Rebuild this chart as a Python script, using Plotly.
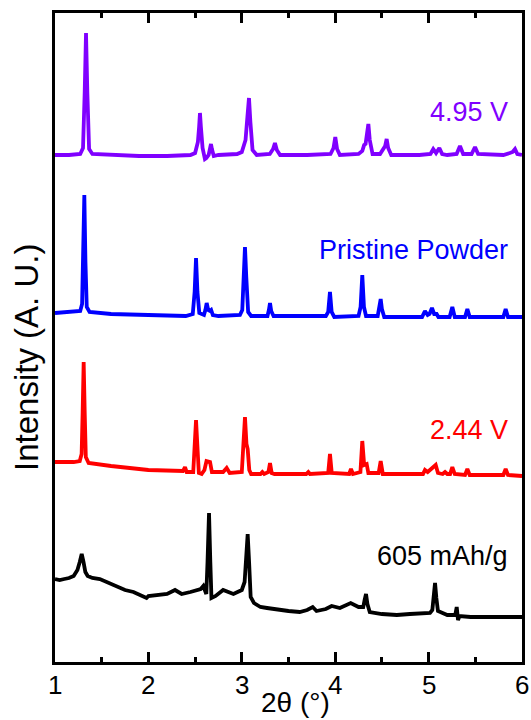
import plotly.graph_objects as go

# 2theta positions and intensities (arbitrary, stacked offsets baked in)
x_495 = [1.00, 1.15, 1.27, 1.300, 1.318, 1.332, 1.346, 1.365, 1.40, 1.60, 1.90, 2.20, 2.45, 2.50, 2.530, 2.543, 2.552, 2.562, 2.580, 2.605, 2.62, 2.645, 2.660, 2.670, 2.680, 2.700, 2.75, 2.95, 3.00, 3.040, 3.060, 3.077, 3.092, 3.115, 3.16, 3.30, 3.335, 3.355, 3.375, 3.41, 3.70, 3.95, 3.982, 4.001, 4.020, 4.05, 4.25, 4.290, 4.310, 4.325, 4.340, 4.355, 4.370, 4.40, 4.48, 4.505, 4.515, 4.535, 4.551, 4.567, 4.60, 4.90, 5.02, 5.050, 5.080, 5.115, 5.145, 5.20, 5.30, 5.336, 5.37, 5.46, 5.497, 5.53, 5.80, 5.850, 5.870, 5.900, 5.925, 5.950, 6.00]
y_495 = [507, 507, 508, 514, 570, 629, 570, 513, 508, 507, 506, 506, 507, 509, 520, 535, 549, 535, 514, 503, 504, 507, 514, 518, 513, 506, 507, 508, 510, 522, 545, 564, 540, 512, 507, 508, 513, 519, 512, 507, 507, 508, 514, 525, 513, 507, 508, 511, 517, 518, 528, 538, 522, 508, 508, 511, 513, 516, 523, 514, 507, 507, 508, 513, 509, 514, 508, 507, 508, 516, 508, 508, 515, 508, 507, 508, 509, 510, 513, 508, 507]

x_pristine = [1.00, 1.20, 1.270, 1.290, 1.302, 1.314, 1.326, 1.340, 1.37, 1.60, 2.00, 2.40, 2.475, 2.495, 2.510, 2.525, 2.545, 2.595, 2.610, 2.624, 2.640, 2.660, 2.672, 2.690, 2.75, 2.98, 3.005, 3.020, 3.034, 3.048, 3.068, 3.10, 3.275, 3.290, 3.302, 3.315, 3.34, 3.90, 3.925, 3.944, 3.962, 3.99, 4.25, 4.272, 4.290, 4.308, 4.33, 4.455, 4.475, 4.487, 4.500, 4.525, 4.93, 4.961, 4.990, 5.010, 5.036, 5.060, 5.086, 5.105, 5.225, 5.254, 5.280, 5.39, 5.415, 5.440, 5.80, 5.825, 5.850, 6.00]
y_pristine = [349, 350, 351, 358, 400, 467, 400, 355, 350, 348, 347, 346, 348, 370, 404, 370, 349, 347, 352, 359, 352, 351, 352, 347, 346, 347, 352, 385, 415, 385, 350, 346, 346, 352, 359, 351, 346, 346, 350, 370, 350, 345, 346, 355, 387, 355, 346, 346, 355, 363, 353, 345, 345, 351, 347, 348, 354, 348, 348, 345, 345, 355, 345, 345, 353, 345, 345, 353, 345, 345]

x_244 = [1.00, 1.20, 1.265, 1.285, 1.296, 1.307, 1.318, 1.330, 1.36, 1.60, 2.00, 2.30, 2.370, 2.392, 2.410, 2.480, 2.495, 2.510, 2.525, 2.540, 2.570, 2.600, 2.622, 2.645, 2.660, 2.680, 2.80, 2.838, 2.870, 3.000, 3.018, 3.034, 3.050, 3.063, 3.080, 3.10, 3.200, 3.220, 3.240, 3.285, 3.302, 3.320, 3.35, 3.690, 3.712, 3.73, 3.925, 3.944, 3.963, 4.150, 4.169, 4.190, 4.270, 4.290, 4.310, 4.337, 4.355, 4.465, 4.487, 4.510, 4.940, 4.961, 4.990, 5.033, 5.076, 5.100, 5.150, 5.176, 5.200, 5.230, 5.254, 5.280, 5.390, 5.415, 5.440, 5.800, 5.825, 5.850, 6.00]
y_244 = [200, 200, 201, 208, 250, 300, 250, 205, 199, 196, 192, 191, 191, 195, 190, 190, 215, 242, 215, 189, 188, 192, 201, 200, 200, 190, 190, 194, 189, 190, 215, 245, 218, 213, 192, 188, 188, 190, 188, 190, 199, 189, 188, 188, 190, 188, 189, 208, 189, 188, 193, 188, 190, 221, 197, 198, 189, 189, 201, 188, 188, 192, 190, 194, 197, 189, 188, 190, 188, 188, 195, 188, 187, 193, 187, 187, 193, 187, 186]

x_605 = [1.00, 1.05, 1.10, 1.15, 1.20, 1.240, 1.265, 1.286, 1.305, 1.325, 1.35, 1.40, 1.48, 1.55, 1.66, 1.75, 1.84, 1.92, 1.98, 2.00, 2.09, 2.20, 2.285, 2.356, 2.45, 2.517, 2.56, 2.588, 2.605, 2.620, 2.633, 2.649, 2.663, 2.675, 2.72, 2.80, 2.91, 3.00, 3.030, 3.048, 3.063, 3.078, 3.095, 3.13, 3.20, 3.27, 3.40, 3.50, 3.62, 3.70, 3.759, 3.80, 3.90, 3.962, 4.05, 4.166, 4.25, 4.300, 4.315, 4.330, 4.345, 4.37, 4.50, 4.66, 4.80, 5.015, 5.040, 5.055, 5.069, 5.083, 5.100, 5.20, 5.285, 5.301, 5.315, 5.33, 5.45, 5.60, 5.80, 6.00]
y_605 = [83, 82, 83, 84, 86, 92, 100, 108, 100, 90, 86, 84, 83, 80, 75, 72, 70, 67, 64, 66, 67, 68, 72, 68, 70, 72, 73, 76, 70, 68, 100, 149, 100, 64, 66, 72, 68, 72, 80, 110, 128, 100, 65, 59, 55, 54, 52, 51, 50, 52, 55, 51, 53, 56, 54, 59, 55, 55, 62, 68, 58, 50, 48, 47, 48, 49, 52, 65, 79, 64, 51, 47, 47, 55, 42, 46, 45, 45, 45, 45]

labels = ["4.95 V", "Pristine Powder", "2.44 V", "605 mAh/g"]
label_y = [550, 412, 232, 106]
colors = ["#8000FF", "#0000FF", "#FF0000", "#000000"]
x_ticks = [1, 2, 3, 4, 5, 6]

FONT = "Liberation Sans, Arial, sans-serif"

fig = go.Figure()
for xs, ys, c in [(x_495, y_495, colors[0]), (x_pristine, y_pristine, colors[1]),
                  (x_244, y_244, colors[2]), (x_605, y_605, colors[3])]:
    fig.add_trace(go.Scatter(x=xs, y=ys, mode="lines",
                             line=dict(color=c, width=3.8), showlegend=False,
                             hoverinfo="skip"))

for txt, yy, c in zip(labels, label_y, colors):
    fig.add_annotation(x=5.87, y=yy, xref="x", yref="y", text=txt,
                       showarrow=False, xanchor="right", yanchor="middle",
                       font=dict(family=FONT, size=27, color=c))

# x tick labels
for t in x_ticks:
    fig.add_annotation(x=t, y=-0.0355, xref="x", yref="paper", text=str(t),
                       showarrow=False, xanchor="center", yanchor="middle",
                       font=dict(family=FONT, size=26, color="black"))

fig.add_annotation(x=-0.06, y=0.47, xref="paper", yref="paper",
                   text="Intensity (A. U.)", textangle=-90, showarrow=False,
                   xanchor="center", yanchor="middle",
                   font=dict(family=FONT, size=33, color="black"))
fig.add_annotation(x=0.514, y=-0.0890, xref="paper", yref="paper",
                   text="2θ (°)", showarrow=False,
                   xanchor="center", yanchor="bottom",
                   font=dict(family=FONT, size=28, color="black"))

fig.update_layout(
    width=531, height=720,
    margin=dict(l=55, r=9, t=13, b=58, autoexpand=False),
    paper_bgcolor="white", plot_bgcolor="white",
    xaxis=dict(range=[1, 6], tickvals=x_ticks, showticklabels=False,
               ticks="inside", ticklen=10, tickwidth=2.5, tickcolor="black",
               minor=dict(dtick=0.5, ticks="inside", ticklen=5, tickwidth=2.5, tickcolor="black"),
               showline=True, linewidth=3, linecolor="black", mirror="allticks",
               showgrid=False, zeroline=False),
    yaxis=dict(range=[0, 649], showticklabels=False, ticks="",
               showline=True, linewidth=3, linecolor="black", mirror=True,
               showgrid=False, zeroline=False),
)

fig.write_html("out.html", config={"displayModeBar": False},
               post_script="document.body.style.margin='0px';")
